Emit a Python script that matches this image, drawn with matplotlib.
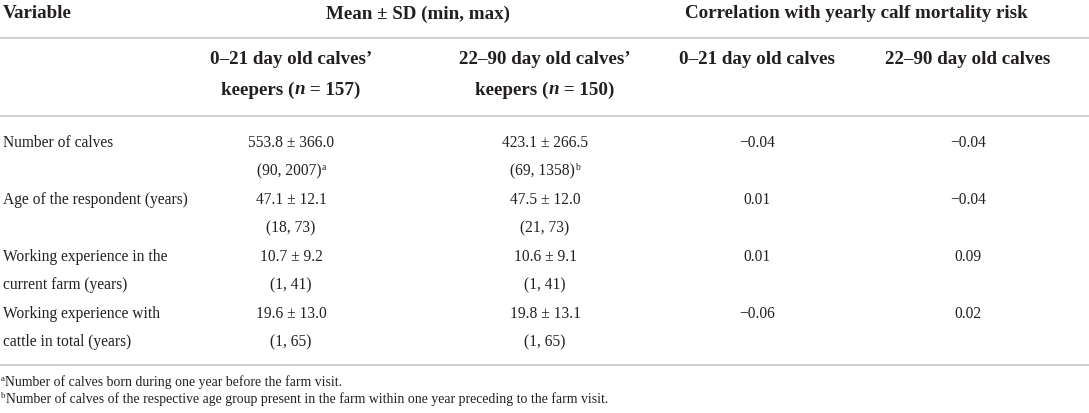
import matplotlib.pyplot as plt

plt.rcParams['font.family'] = ['Liberation Serif', 'DejaVu Serif']

# table content
variables = [["Number of calves"],
             ["Age of the respondent (years)"],
             ["Working experience in the", "current farm (years)"],
             ["Working experience with", "cattle in total (years)"]]
young_mean_sd = ["553.8 ± 366.0", "47.1 ± 12.1", "10.7 ± 9.2", "19.6 ± 13.0"]
young_range = ["(90, 2007)", "(18, 73)", "(1, 41)", "(1, 65)"]
young_sup = ["a", "", "", ""]
old_mean_sd = ["423.1 ± 266.5", "47.5 ± 12.0", "10.6 ± 9.1", "19.8 ± 13.1"]
old_range = ["(69, 1358)", "(21, 73)", "(1, 41)", "(1, 65)"]
old_sup = ["b", "", "", ""]
corr_young = [-0.04, 0.01, 0.01, -0.06]
corr_old = [-0.04, -0.04, 0.09, 0.02]
footnote_marks = ["a", "b"]
footnotes = ["Number of calves born during one year before the farm visit.",
             "Number of calves of the respective age group present in the farm within one year preceding to the farm visit."]

W, H = 1089, 414
fig = plt.figure(figsize=(W / 100, H / 100), dpi=100)
ax = fig.add_axes([0, 0, 1, 1])
ax.set_xlim(0, W)
ax.set_ylim(H, 0)
ax.axis('off')
renderer = fig.canvas.get_renderer()

col = '#231f20'
line_col = '#cccccc'
fs = 11.2
hfs = 13.7
nfs = 9.9


def width_of(t):
    return t.get_window_extent(renderer).width


def runs(x, y, parts, ha='center'):
    # parts: list of (text, kwargs, dy); drawn left to right
    objs = []
    for s, kw, dy in parts:
        objs.append(ax.text(0, y + dy, s, color=col, va='center', **kw))
    widths = [width_of(o) for o in objs]
    total = sum(widths)
    cur = x - total / 2 if ha == 'center' else x
    for o, w in zip(objs, widths):
        o.set_x(cur)
        cur += w


bold = dict(fontsize=hfs, fontweight='bold')
bold_it = dict(fontsize=hfs, fontweight='bold', fontstyle='italic')

# headers
ax.text(3, 14, "Variable", color=col, va='center', **bold)
ax.text(418, 14, "Mean ± SD (min, max)", color=col, va='center', ha='center', **bold)
ax.text(856, 14, "Correlation with yearly calf mortality risk", color=col, va='center', ha='center', **bold)
ax.text(291, 60, "0–21 day old calves’", color=col, va='center', ha='center', **bold)
runs(291, 90, [("keepers (", bold, 0), ("n", bold_it, 0), (" = 157)", bold, 0)])
ax.text(545, 60, "22–90 day old calves’", color=col, va='center', ha='center', **bold)
runs(545, 90, [("keepers (", bold, 0), ("n", bold_it, 0), (" = 150)", bold, 0)])
ax.text(757, 60, "0–21 day old calves", color=col, va='center', ha='center', **bold)
ax.text(968, 60, "22–90 day old calves", color=col, va='center', ha='center', **bold)

for y in [39, 117, 366]:
    ax.plot([0, W], [y, y], color=line_col, lw=1.3)

body = dict(fontsize=fs)
sup = dict(fontsize=fs * 0.62)
row_y = [143, 200, 257, 314]
step = 28.5
for i, y in enumerate(row_y):
    for j, line in enumerate(variables[i]):
        ax.text(3, y + j * step, line, color=col, va='center', **body)
    ax.text(291, y, young_mean_sd[i], color=col, va='center', ha='center', **body)
    ax.text(545, y, old_mean_sd[i], color=col, va='center', ha='center', **body)
    if young_sup[i]:
        runs(291, y + step, [(young_range[i], body, 0), (young_sup[i], sup, -4)])
    else:
        ax.text(291, y + step, young_range[i], color=col, va='center', ha='center', **body)
    if old_sup[i]:
        runs(545, y + step, [(old_range[i], body, 0), (old_sup[i], sup, -4)])
    else:
        ax.text(545, y + step, old_range[i], color=col, va='center', ha='center', **body)
    ax.text(757, y, f"{corr_young[i]:.2f}".replace('-', '−'), color=col, va='center', ha='center', **body)
    ax.text(968, y, f"{corr_old[i]:.2f}".replace('-', '−'), color=col, va='center', ha='center', **body)

for k, (m, note) in enumerate(zip(footnote_marks, footnotes)):
    runs(1, 382 + k * 17, [(m, dict(fontsize=nfs * 0.65), -3), (note, dict(fontsize=nfs), 0)], ha='left')

fig.savefig('out.png', dpi=100)
